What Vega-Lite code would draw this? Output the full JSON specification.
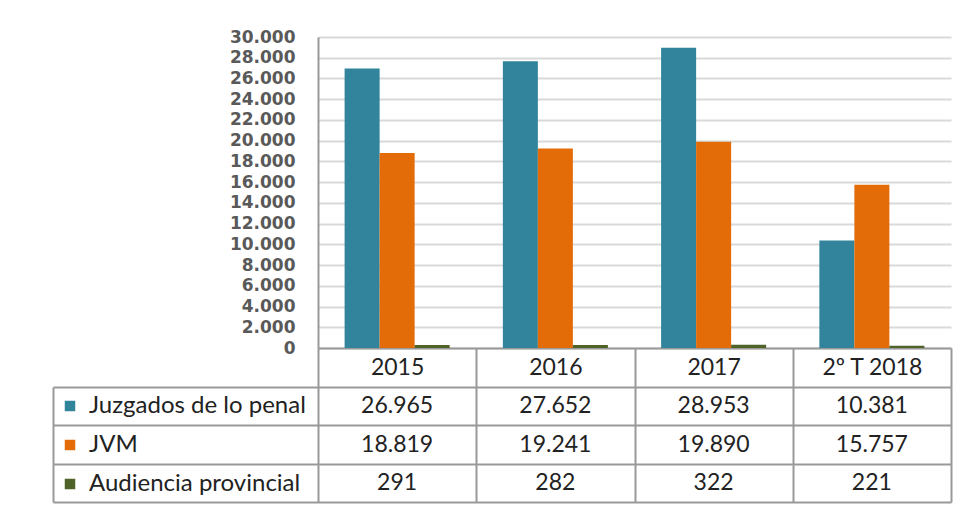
{
  "$schema": "https://vega.github.io/schema/vega-lite/v6.json",
  "padding": {"left": 52, "top": 28, "right": 20, "bottom": 3},
  "background": "white",
  "bounds": "flush",
  "spacing": 39,
  "config": {
    "locale": {"number": {"decimal": ",", "thousands": ".", "grouping": [3], "currency": ["", " €"]}},
    "font": "Lato",
    "view": {"stroke": null}
  },
  "datasets": {
    "d": [
      {"year": "2015", "series": "Juzgados de lo penal", "value": 26965},
      {"year": "2015", "series": "JVM", "value": 18819},
      {"year": "2015", "series": "Audiencia provincial", "value": 291},
      {"year": "2016", "series": "Juzgados de lo penal", "value": 27652},
      {"year": "2016", "series": "JVM", "value": 19241},
      {"year": "2016", "series": "Audiencia provincial", "value": 282},
      {"year": "2017", "series": "Juzgados de lo penal", "value": 28953},
      {"year": "2017", "series": "JVM", "value": 19890},
      {"year": "2017", "series": "Audiencia provincial", "value": 322},
      {"year": "2º T 2018", "series": "Juzgados de lo penal", "value": 10381},
      {"year": "2º T 2018", "series": "JVM", "value": 15757},
      {"year": "2º T 2018", "series": "Audiencia provincial", "value": 221}
    ]
  },
  "vconcat": [
    {
      "width": 633,
      "height": 311,
      "data": {"name": "d"},
      "mark": {"type": "bar"},
      "encoding": {
        "x": {
          "field": "year", "type": "nominal", "sort": null,
          "scale": {"paddingInner": 0, "paddingOuter": 0},
          "axis": {"title": null, "labelAngle": 0, "tickBand": "extent", "tickSize": 39, "tickColor": "#999999", "tickWidth": 2, "domainColor": "#999999", "domainWidth": 2, "labelPadding": -19.5, "labelBaseline": "middle", "labelFontSize": 23, "labelColor": "#222222", "labelFont": "Lato"}
        },
        "xOffset": {
          "field": "series", "type": "nominal",
          "sort": ["Juzgados de lo penal", "JVM", "Audiencia provincial"],
          "scale": {"paddingOuter": 0.76, "paddingInner": 0}
        },
        "y": {
          "field": "value", "type": "quantitative",
          "scale": {"domain": [0, 30000], "nice": false},
          "axis": {"title": null, "values": [0, 2000, 4000, 6000, 8000, 10000, 12000, 14000, 16000, 18000, 20000, 22000, 24000, 26000, 28000, 30000], "ticks": false, "labelPadding": 23, "labelFontSize": 17, "labelFontWeight": "bold", "labelColor": "#595959", "labelFont": "DejaVu Sans", "gridColor": "#d9d9d9", "gridWidth": 2, "domainColor": "#999999", "domainWidth": 2, "format": ",d"}
        },
        "color": {
          "field": "series", "type": "nominal",
          "scale": {"domain": ["Juzgados de lo penal", "JVM", "Audiencia provincial"], "range": ["#31849B", "#E36C09", "#4F6228"]},
          "legend": {"orient": "none", "legendX": -260, "legendY": 357, "title": null, "symbolType": "square", "symbolSize": 110, "symbolStrokeWidth": 0, "symbolOpacity": 1, "labelFontSize": 24, "labelLimit": 400, "labelColor": "#222222", "labelFont": "Lato", "labelOffset": 7, "rowPadding": 15, "padding": 0}
        }
      }
    },
    {
      "width": 633,
      "height": 115,
      "data": {"name": "d"},
      "mark": {"type": "text", "fontSize": 23, "color": "#222222", "font": "Lato"},
      "encoding": {
        "x": {
          "field": "year", "type": "nominal", "sort": null,
          "scale": {"paddingInner": 0, "paddingOuter": 0},
          "axis": {"title": null, "labels": false, "ticks": false, "domain": false, "grid": true, "tickBand": "extent", "gridColor": "#999999", "gridWidth": 2}
        },
        "y": {
          "field": "series", "type": "nominal",
          "sort": ["Juzgados de lo penal", "JVM", "Audiencia provincial"],
          "scale": {"paddingInner": 0, "paddingOuter": 0},
          "axis": {"title": null, "labels": false, "offset": 265, "tickBand": "extent", "tickSize": -898, "tickColor": "#999999", "tickWidth": 2, "domainColor": "#999999", "domainWidth": 2, "grid": false}
        },
        "text": {"field": "value", "type": "quantitative", "format": ",d"}
      }
    }
  ]
}
